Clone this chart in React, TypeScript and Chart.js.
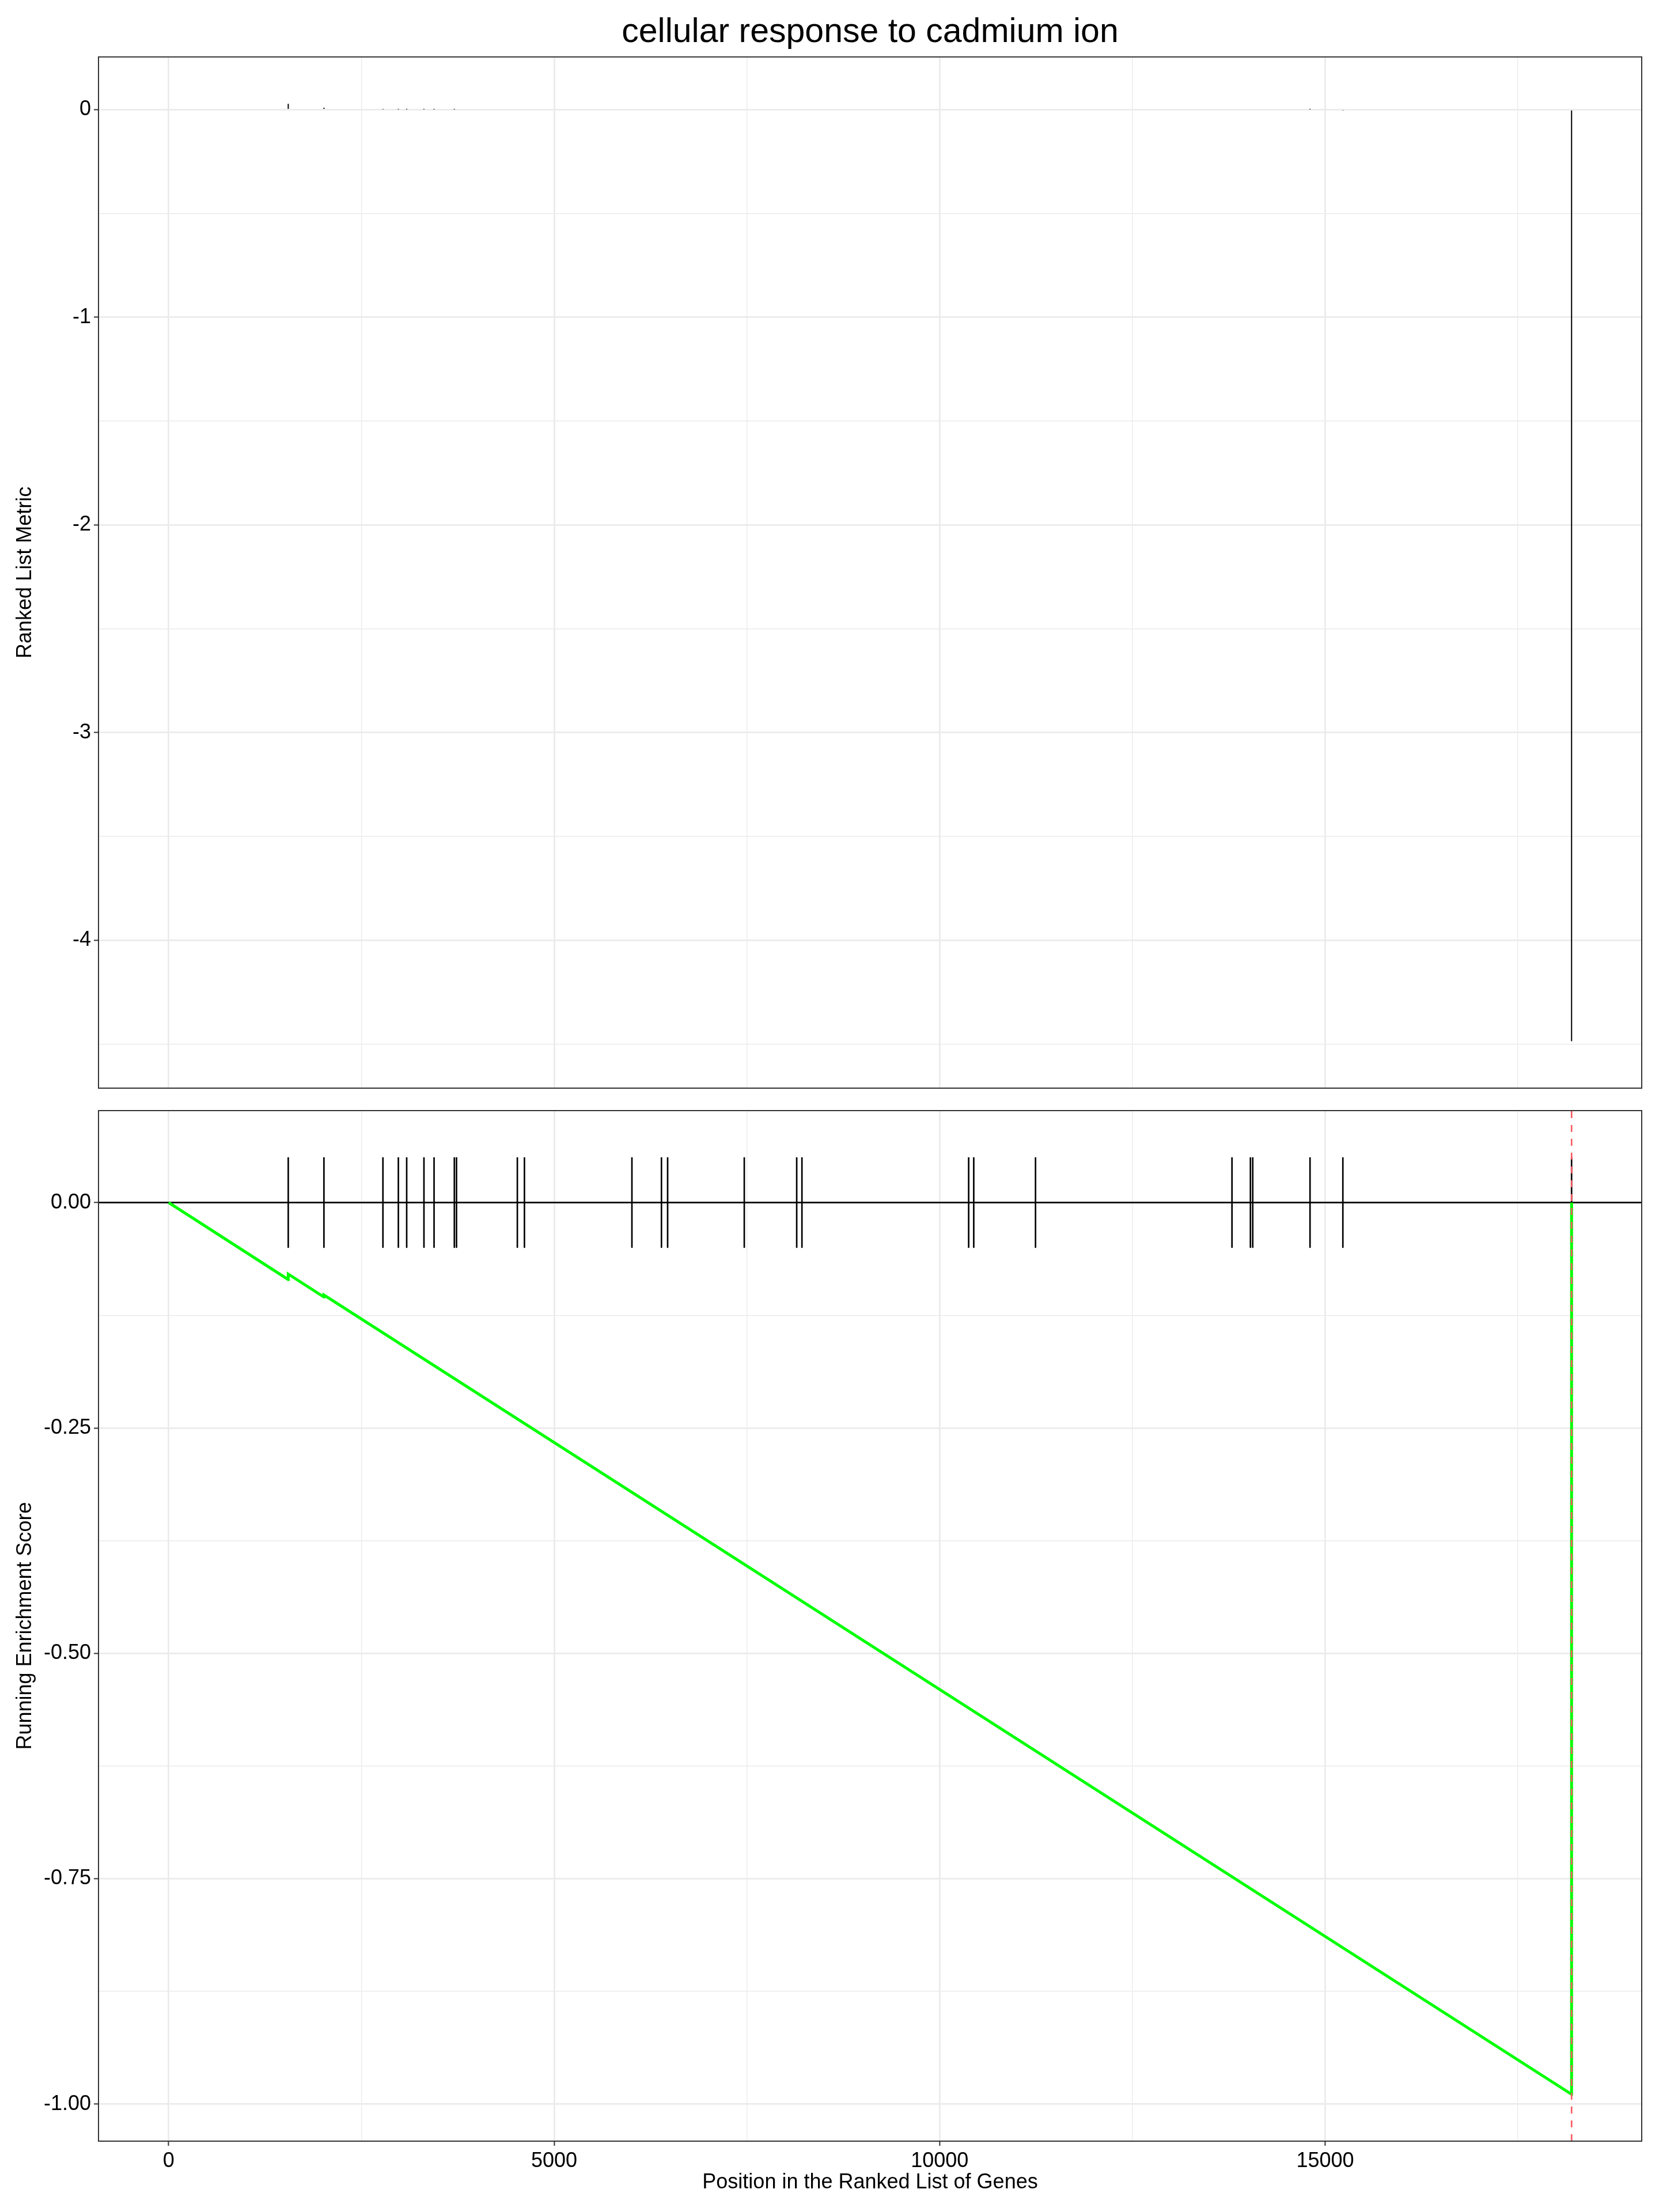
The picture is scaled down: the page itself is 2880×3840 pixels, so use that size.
import React, { useEffect, useRef } from "react";
import { Chart, registerables } from "chart.js";

Chart.register(...registerables);

// ---------- text ----------
const TITLE = "cellular response to cadmium ion";
const X_TITLE = "Position in the Ranked List of Genes";
const TOP_Y_TITLE = "Ranked List Metric";
const BOTTOM_Y_TITLE = "Running Enrichment Score";

// ---------- data ----------
// positions of the gene-set members in the ranked list
const hitPositions = [
  1552, 2015, 2780, 2980, 3088, 3312, 3443, 3706, 3734, 4523, 4615, 6009, 6392,
  6472, 7466, 8146, 8214, 10376, 10442, 11243, 13791, 14030, 14060, 14803,
  15229, 18195,
];
// ranked list metric of those genes
const hitMetrics = [
  0.028, 0.009, 0.0012, 0.001, 0.001, 0.0008, 0.0008, 0.0008, 0, 0, 0, 0, 0,
  0, 0, 0, 0, 0, 0, 0, 0, 0, 0, 0.001, -0.003, -4.487,
];
// running enrichment score (read at its corners)
const esPositions = [1, 1551, 1552, 2014, 2015, 18194, 18195];
const esScores = [0, -0.0853, -0.0793, -0.1047, -0.1025, -0.989, 0];
// position of maximum deviation
const peakPosition = 18195;

// ---------- axes ----------
const xMajorTicks = [0, 5000, 10000, 15000];
const xMinorTicks = [2500, 7500, 12500, 17500];
const metricMajorTicks = [0, -1, -2, -3, -4];
const metricMinorTicks = [-0.5, -1.5, -2.5, -3.5, -4.5];
const esMajorTicks = [0, -0.25, -0.5, -0.75, -1];
const esMinorTicks = [-0.125, -0.375, -0.625, -0.875];
const xLimits = [-908.7, 19104.7];
const metricLimits = [-4.7128, 0.2538];
const esLimits = [-1.041, 0.102];
const hitMarkRange = [-0.05, 0.05];

const FONT = "'Liberation Sans', Arial, Helvetica, sans-serif";
const GRID = "#EBEBEB";
const FRAME = "#333333";

const framePlugin = {
  id: "panelFrame",
  afterDraw(chart: any) {
    const { ctx, chartArea } = chart;
    ctx.save();
    ctx.strokeStyle = FRAME;
    ctx.lineWidth = 2;
    ctx.strokeRect(
      chartArea.left,
      chartArea.top,
      chartArea.right - chartArea.left,
      chartArea.bottom - chartArea.top
    );
    ctx.restore();
  },
};

function setTicks(majors: number[], minors: number[]) {
  return (scale: any) => {
    const all = [...majors, ...minors].sort((a, b) => a - b);
    scale.ticks = all.map((v) => ({ value: v }));
  };
}

function isMajor(ctx: any, majors: number[]) {
  return ctx.tick && majors.some((m) => Math.abs(m - ctx.tick.value) < 1e-9);
}

function xScale(showLabels: boolean): any {
  return {
    type: "linear",
    min: xLimits[0],
    max: xLimits[1],
    offset: false,
    afterBuildTicks: setTicks(xMajorTicks, xMinorTicks),
    afterFit: (s: any) => {
      s.height = showLabels ? 123 : 0;
      s.paddingLeft = 0;
      s.paddingRight = 0;
    },
    border: { display: false },
    grid: {
      offset: false,
      color: GRID,
      lineWidth: (c: any) => (isMajor(c, xMajorTicks) ? 2.8 : 1.4),
      drawTicks: showLabels,
      tickLength: 8,
      tickWidth: 2,
      tickColor: (c: any) => (isMajor(c, xMajorTicks) ? FRAME : "rgba(0,0,0,0)"),
    },
    ticks: {
      display: showLabels,
      autoSkip: false,
      maxRotation: 0,
      padding: 5,
      color: "#000",
      font: { family: FONT, size: 36 },
      callback: (v: any) => (xMajorTicks.includes(v) ? String(v) : ""),
    },
    title: showLabels
      ? {
          display: true,
          text: X_TITLE,
          color: "#000",
          font: { family: FONT, size: 36 },
          padding: { top: 0, bottom: 29 },
        }
      : { display: false },
  };
}

function yScale(
  limits: number[],
  majors: number[],
  minors: number[],
  fmt: (v: number) => string,
  title: string
): any {
  return {
    type: "linear",
    min: limits[0],
    max: limits[1],
    afterBuildTicks: setTicks(majors, minors),
    afterFit: (s: any) => {
      s.width = 171;
      s.paddingTop = 0;
      s.paddingBottom = 0;
    },
    border: { display: false },
    grid: {
      color: GRID,
      lineWidth: (c: any) => (isMajor(c, majors) ? 2.8 : 1.4),
      drawTicks: true,
      tickLength: 8,
      tickWidth: 2,
      tickColor: (c: any) => (isMajor(c, majors) ? FRAME : "rgba(0,0,0,0)"),
    },
    ticks: {
      autoSkip: false,
      padding: 5,
      color: "#000",
      font: { family: FONT, size: 36 },
      callback: (v: any) =>
        majors.some((m) => Math.abs(m - v) < 1e-9) ? fmt(v) : "",
    },
    title: {
      display: true,
      text: title,
      color: "#000",
      font: { family: FONT, size: 36 },
      padding: { top: 22, bottom: 0 },
    },
  };
}

function TopPanel() {
  const ref = useRef<HTMLCanvasElement | null>(null);
  useEffect(() => {
    if (!ref.current) return;
    const chart = new Chart(ref.current, {
      type: "bar",
      data: {
        datasets: [
          {
            type: "bar",
            data: hitPositions.map((x, i) => ({ x, y: [0, hitMetrics[i]] })) as any,
            backgroundColor: "#000000",
            borderWidth: 0,
            barThickness: 2,
            inflateAmount: 0,
            grouped: false,
          } as any,
        ],
      },
      options: {
        animation: false,
        responsive: false,
        devicePixelRatio: 1,
        layout: {
          autoPadding: false,
          padding: { top: 0, right: 30, bottom: 11, left: 0 },
        },
        plugins: {
          legend: { display: false },
          tooltip: { enabled: false },
          title: {
            display: true,
            text: TITLE,
            fullSize: false,
            color: "#000",
            font: { family: FONT, size: 59, weight: "normal" },
            padding: { top: 21, bottom: 7 },
          },
        },
        scales: {
          x: xScale(false),
          y: yScale(
            metricLimits,
            metricMajorTicks,
            metricMinorTicks,
            (v) => String(v),
            TOP_Y_TITLE
          ),
        },
      },
      plugins: [framePlugin],
    } as any);
    return () => chart.destroy();
  }, []);
  return (
    <canvas
      ref={ref}
      width={2880}
      height={1900}
      style={{ position: "absolute", left: 0, top: 0, width: 2880, height: 1900 }}
    />
  );
}

function BottomPanel() {
  const ref = useRef<HTMLCanvasElement | null>(null);
  useEffect(() => {
    if (!ref.current) return;
    const chart = new Chart(ref.current, {
      type: "bar",
      data: {
        datasets: [
          {
            type: "line",
            data: [
              { x: peakPosition, y: esLimits[0] },
              { x: peakPosition, y: esLimits[1] },
            ],
            borderColor: "#FA5860",
            borderWidth: 2.6,
            borderDash: [12, 12],
            pointRadius: 0,
            order: 0,
          },
          {
            type: "line",
            data: esPositions.map((x, i) => ({ x, y: esScores[i] })),
            borderColor: "#00FF00",
            borderWidth: 5,
            pointRadius: 0,
            tension: 0,
            order: 1,
          },
          {
            type: "bar",
            data: hitPositions.map((x) => ({ x, y: hitMarkRange })) as any,
            backgroundColor: "#000000",
            borderWidth: 0,
            barThickness: 2,
            grouped: false,
            order: 2,
          } as any,
          {
            type: "line",
            data: [
              { x: xLimits[0], y: 0 },
              { x: xLimits[1], y: 0 },
            ],
            borderColor: "#000000",
            borderWidth: 2.6,
            pointRadius: 0,
            order: 3,
          },
        ],
      },
      options: {
        animation: false,
        responsive: false,
        devicePixelRatio: 1,
        layout: {
          autoPadding: false,
          padding: { top: 28, right: 30, bottom: 0, left: 0 },
        },
        plugins: {
          legend: { display: false },
          tooltip: { enabled: false },
        },
        scales: {
          x: xScale(true),
          y: yScale(
            esLimits,
            esMajorTicks,
            esMinorTicks,
            (v) => v.toFixed(2),
            BOTTOM_Y_TITLE
          ),
        },
      },
      plugins: [framePlugin],
    } as any);
    return () => chart.destroy();
  }, []);
  return (
    <canvas
      ref={ref}
      width={2880}
      height={1940}
      style={{ position: "absolute", left: 0, top: 1900, width: 2880, height: 1940 }}
    />
  );
}

export default function App() {
  return (
    <div
      style={{
        position: "absolute",
        left: 0,
        top: 0,
        width: 2880,
        height: 3840,
        background: "#ffffff",
      }}
    >
      <TopPanel />
      <BottomPanel />
    </div>
  );
}
